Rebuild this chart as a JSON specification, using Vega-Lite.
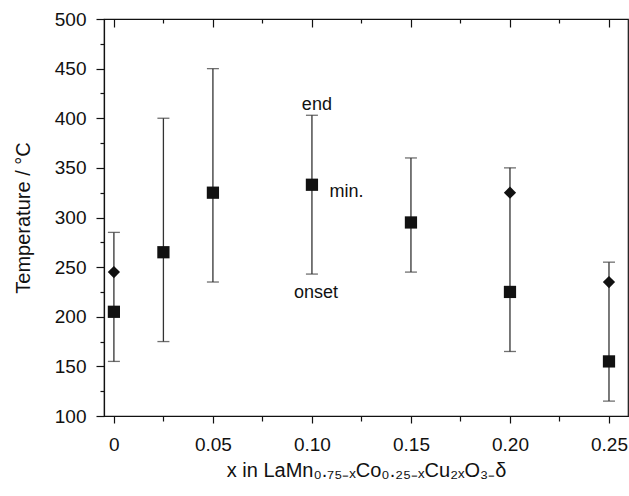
{
  "$schema": "https://vega.github.io/schema/vega-lite/v6.json",
  "width": 524,
  "height": 397,
  "autosize": {"type": "none"},
  "padding": {"left": 104, "top": 19, "right": 1, "bottom": 80},
  "background": "white",
  "config": {
    "view": {"stroke": "#111", "strokeWidth": 1.2},
    "font": "Liberation Sans",
    "axis": {"domainColor": "#111", "tickColor": "#111", "labelColor": "#111", "titleColor": "#111", "grid": false, "labelFont": "Liberation Sans", "titleFont": "Liberation Sans", "titleFontWeight": "normal", "domainWidth": 1.2, "tickWidth": 1.2}
  },
  "datasets": {
    "pts": [
      {"x": 0, "onset": 155, "end": 285, "min": 205, "min2": 245},
      {"x": 0.025, "onset": 175, "end": 400, "min": 265, "min2": null},
      {"x": 0.05, "onset": 235, "end": 450, "min": 325, "min2": null},
      {"x": 0.1, "onset": 243, "end": 403, "min": 333, "min2": null},
      {"x": 0.15, "onset": 245, "end": 360, "min": 295, "min2": null},
      {"x": 0.2, "onset": 165, "end": 350, "min": 225, "min2": 325},
      {"x": 0.25, "onset": 115, "end": 255, "min": 155, "min2": 235}
    ],
    "notes": [
      {"x": 0.1025, "y": 408, "label": "end"},
      {"x": 0.1174, "y": 321, "label": "min."},
      {"x": 0.102, "y": 219, "label": "onset"}
    ]
  },
  "encoding": {
    "x": {
      "field": "x", "type": "quantitative",
      "scale": {"domain": [-0.005, 0.2596], "nice": false, "zero": false},
      "axis": {
        "orient": "bottom",
        "values": [0, 0.025, 0.05, 0.075, 0.1, 0.125, 0.15, 0.175, 0.2, 0.225, 0.25],
        "labelExpr": "datum.value == 0 ? '0' : (round(datum.value*1000) % 50 == 0 ? format(datum.value, '.2f') : '')",
        "tickSize": {"condition": {"test": "round(datum.value*1000) % 50 == 0", "value": 7}, "value": 5},
        "grid": true,
        "gridColor": "#111",
        "gridOpacity": 1,
        "gridWidth": 1.2,
        "gridDash": {"condition": {"test": "round(datum.value*1000) % 50 == 0", "value": [8, 2000]}, "value": [4, 2000]},
        "labelFontSize": 19,
        "labelPadding": 12,
        "title": "x in LaMn₀.₇₅₋ₓCo₀.₂₅₋ₓCu₂ₓO₃₋δ",
        "titleFontSize": 20,
        "titlePadding": 6
      }
    },
    "y": {
      "type": "quantitative",
      "scale": {"domain": [100, 500], "nice": false, "zero": false},
      "axis": {
        "orient": "left",
        "values": [100, 125, 150, 175, 200, 225, 250, 275, 300, 325, 350, 375, 400, 425, 450, 475, 500],
        "labelExpr": "datum.value % 50 === 0 ? datum.label : ''",
        "tickSize": {"condition": {"test": "datum.value % 50 === 0", "value": 8}, "value": 4},
        "labelFontSize": 19,
        "labelPadding": 10,
        "title": "Temperature / °C",
        "titleFontSize": 20,
        "titlePadding": 21
      }
    }
  },
  "layer": [
    {
      "data": {"name": "pts"},
      "mark": {"type": "rule", "color": "#333", "strokeWidth": 1.3},
      "encoding": {"y": {"field": "onset", "type": "quantitative"}, "y2": {"field": "end"}}
    },
    {
      "data": {"name": "pts"},
      "mark": {"type": "tick", "orient": "horizontal", "size": 12, "thickness": 1.3, "color": "#333"},
      "encoding": {"y": {"field": "onset", "type": "quantitative"}}
    },
    {
      "data": {"name": "pts"},
      "mark": {"type": "tick", "orient": "horizontal", "size": 12, "thickness": 1.3, "color": "#333"},
      "encoding": {"y": {"field": "end", "type": "quantitative"}}
    },
    {
      "data": {"name": "pts"},
      "mark": {"type": "point", "shape": "square", "filled": true, "size": 150, "color": "#111", "opacity": 1},
      "encoding": {"y": {"field": "min", "type": "quantitative"}}
    },
    {
      "data": {"name": "pts"},
      "transform": [{"filter": "isValid(datum.min2)"}],
      "mark": {"type": "point", "shape": "diamond", "filled": true, "size": 150, "color": "#111", "opacity": 1},
      "encoding": {"y": {"field": "min2", "type": "quantitative"}}
    },
    {
      "data": {"name": "notes"},
      "mark": {"type": "text", "fontSize": 18, "align": "center", "baseline": "alphabetic", "color": "#111", "font": "Liberation Sans"},
      "encoding": {
        "y": {"field": "y", "type": "quantitative"},
        "text": {"field": "label"}
      }
    }
  ]
}
